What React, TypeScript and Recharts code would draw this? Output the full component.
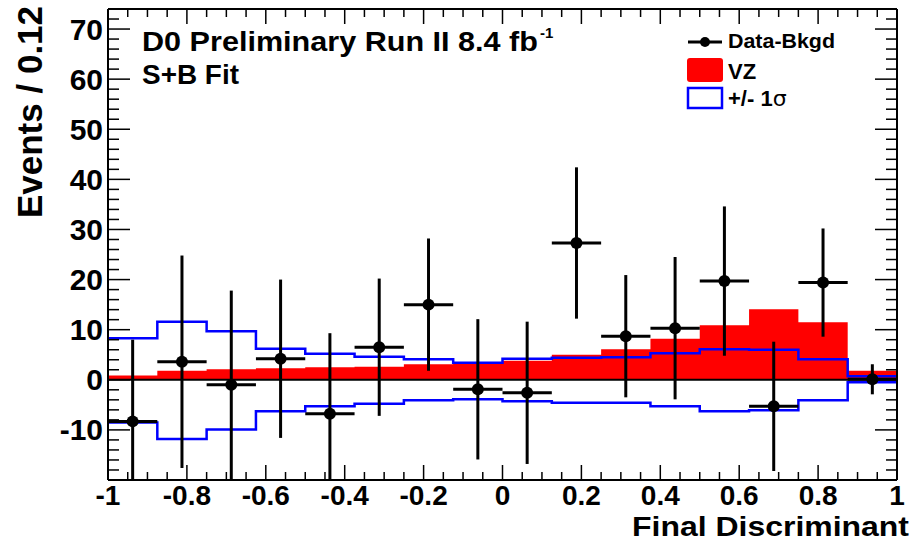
import React from 'react';
import {
    ComposedChart,
    Area,
    Line,
    Scatter,
    ErrorBar,
    XAxis,
    YAxis,
    ReferenceLine
} from 'recharts';

// histogram bins (width 0.125)
const binEdges = [-1, -0.875, -0.75, -0.625, -0.5, -0.375, -0.25, -0.125, 0, 0.125, 0.25, 0.375, 0.5, 0.625, 0.75, 0.875, 1];
const binCenters = [-0.9375, -0.8125, -0.6875, -0.5625, -0.4375, -0.3125, -0.1875, -0.0625, 0.0625, 0.1875, 0.3125, 0.4375, 0.5625, 0.6875, 0.8125, 0.9375];

const vzSignal = [0.85, 1.8, 2.1, 2.3, 2.5, 2.6, 3.1, 3.3, 3.8, 5.0, 6.1, 8.2, 10.9, 14.1, 11.5, 1.8];
const sigmaUp = [8.3, 11.6, 9.7, 6.2, 5.2, 4.6, 4.1, 3.4, 4.2, 4.4, 4.5, 5.3, 6.1, 6.0, 4.1, 0.7];
const sigmaDown = [-8.5, -11.8, -9.9, -6.3, -5.3, -4.8, -4.1, -3.9, -4.3, -4.6, -4.6, -5.3, -6.3, -6.1, -4.1, -0.5];

const dataMinusBkgd = [-8.3, 3.6, -1.0, 4.2, -6.8, 6.5, 15.0, -1.9, -2.6, 27.3, 8.7, 10.3, 19.7, -5.3, 19.4, 0.1];
const dataErr = [16.3, 21.2, 18.8, 15.8, 16.1, 13.7, 13.2, 14.0, 14.2, 15.1, 12.2, 14.2, 14.9, 12.9, 10.8, 3.0];
const halfBin = 0.0625;

const xMajorTicks = [-1, -0.8, -0.6, -0.4, -0.2, 0, 0.2, 0.4, 0.6, 0.8, 1];
const yMajorTicks = [-10, 0, 10, 20, 30, 40, 50, 60, 70];
const yDomain = [-20, 74];

const FONT = '"Liberation Sans", Arial, Helvetica, sans-serif';

// ROOT-style minor ticks: 4 per major on x, 5 per major on y
const xTicks: number[] = [];
for (let i = 0; i < xMajorTicks.length - 1; i++) {
    const a = xMajorTicks[i];
    const step = (xMajorTicks[i + 1] - a) / 4;
    for (let k = 0; k < 4; k++) xTicks.push(Math.round((a + k * step) * 1000) / 1000);
}
xTicks.push(xMajorTicks[xMajorTicks.length - 1]);

const yTicks: number[] = [];
for (let v = yDomain[0]; v <= yDomain[1]; v += 2) yTicks.push(v);

const isMajorX = (v: number) => xMajorTicks.some((m) => Math.abs(m - v) < 1e-6);
const isMajorY = (v: number) => yMajorTicks.includes(v);

const stepData = binEdges.map((x, i) => {
    const k = Math.min(i, vzSignal.length - 1);
    return { x, vz: vzSignal[k], up: sigmaUp[k], down: sigmaDown[k] };
});

const points = binCenters.map((x, i) => ({
    x,
    y: dataMinusBkgd[i],
    yErr: dataErr[i],
    xErr: halfBin
}));

// plot frame, used to clip the error bars like ROOT does
const PLOT = { left: 108, top: 9, width: 789, height: 471 };

const BottomTick = (props: any) => {
    const { x, y, payload } = props;
    const major = isMajorX(payload.value);
    return (
        <g>
            <line x1={x} x2={x} y1={y} y2={y - (major ? 15 : 8)} stroke="#000" strokeWidth={1.5} />
            {major && (
                <text
                    x={x}
                    y={y + 25}
                    textAnchor="middle"
                    fontFamily={FONT}
                    fontWeight="bold"
                    fontSize={28}
                    fill="#000"
                >
                    {String(payload.value)}
                </text>
            )}
        </g>
    );
};

const TopTick = (props: any) => {
    const { x, y, payload } = props;
    const major = isMajorX(payload.value);
    return <line x1={x} x2={x} y1={y} y2={y + (major ? 15 : 8)} stroke="#000" strokeWidth={1.5} />;
};

const LeftTick = (props: any) => {
    const { x, y, payload } = props;
    const major = isMajorY(payload.value);
    return (
        <g>
            <line x1={x} x2={x + (major ? 22 : 11)} y1={y} y2={y} stroke="#000" strokeWidth={1.5} />
            {major && (
                <text
                    x={x - 5}
                    y={y + 10.5}
                    textAnchor="end"
                    fontFamily={FONT}
                    fontWeight="bold"
                    fontSize={30}
                    fill="#000"
                >
                    {String(payload.value)}
                </text>
            )}
        </g>
    );
};

const RightTick = (props: any) => {
    const { x, y, payload } = props;
    const major = isMajorY(payload.value);
    return <line x1={x} x2={x - (major ? 22 : 11)} y1={y} y2={y} stroke="#000" strokeWidth={1.5} />;
};

const frame = { stroke: '#000', strokeWidth: 2 };

function Annotations() {
    return (
        <svg
            width={911}
            height={542}
            style={{ position: 'absolute', left: 0, top: 0, pointerEvents: 'none' }}
            fontFamily={FONT}
            fontWeight="bold"
        >
            <defs>
                <clipPath id="plotClip" clipPathUnits="userSpaceOnUse">
                    <rect x={PLOT.left} y={PLOT.top} width={PLOT.width} height={PLOT.height} />
                </clipPath>
            </defs>
            <text x={142} y={51} fontSize={28} textLength={396} lengthAdjust="spacingAndGlyphs">
                D0 Preliminary Run II 8.4 fb
            </text>
            <text x={540} y={38} fontSize={15}>-1</text>
            <text x={142} y={84} fontSize={27} textLength={97} lengthAdjust="spacingAndGlyphs">S+B Fit</text>

            {/* legend */}
            <line x1={688} x2={722} y1={42} y2={42} stroke="#000" strokeWidth={3} />
            <circle cx={705} cy={42} r={5} fill="#000" />
            <text x={728} y={48} fontSize={20} textLength={107} lengthAdjust="spacingAndGlyphs">Data-Bkgd</text>
            <rect x={687} y={58} width={36} height={24} rx={3} fill="#ff0000" />
            <text x={728} y={79} fontSize={22}>VZ</text>
            <rect x={688} y={88} width={34} height={20} fill="none" stroke="#0000ff" strokeWidth={2.5} />
            <text x={728} y={106} fontSize={22}>+/- 1<tspan fontWeight="normal" fontFamily="'DejaVu Sans', sans-serif">σ</tspan></text>

            {/* axis titles */}
            <text
                x={42}
                y={112}
                fontSize={35}
                textAnchor="middle"
                transform="rotate(-90 42 112)"
            >
                Events / 0.12
            </text>
            <text x={909} y={536} fontSize={28} textAnchor="end" textLength={277} lengthAdjust="spacingAndGlyphs">
                Final Discriminant
            </text>
        </svg>
    );
}

export default function App() {
    return (
        <div style={{ position: 'relative', width: 911, height: 542, background: '#fff' }}>
            <style>{'body { margin: 0; } .recharts-errorBar { clip-path: url(#plotClip); }'}</style>
            <ComposedChart width={911} height={542} margin={{ top: 0, right: 0, bottom: 0, left: 0 }}>
                <XAxis
                    xAxisId="b"
                    dataKey="x"
                    type="number"
                    domain={[-1, 1]}
                    ticks={xTicks}
                    interval={0}
                    allowDataOverflow
                    height={62}
                    tickSize={0}
                    tickMargin={0}
                    tickLine={false}
                    axisLine={frame}
                    tick={BottomTick}
                />
                <XAxis
                    xAxisId="t"
                    orientation="top"
                    dataKey="x"
                    type="number"
                    domain={[-1, 1]}
                    ticks={xTicks}
                    interval={0}
                    allowDataOverflow
                    height={9}
                    tickSize={0}
                    tickMargin={0}
                    tickLine={false}
                    axisLine={frame}
                    tick={TopTick}
                />
                <YAxis
                    yAxisId="l"
                    type="number"
                    domain={yDomain}
                    ticks={yTicks}
                    interval={0}
                    allowDataOverflow
                    width={108}
                    tickSize={0}
                    tickMargin={0}
                    tickLine={false}
                    axisLine={frame}
                    tick={LeftTick}
                />
                <YAxis
                    yAxisId="r"
                    orientation="right"
                    type="number"
                    domain={yDomain}
                    ticks={yTicks}
                    interval={0}
                    allowDataOverflow
                    width={14}
                    tickSize={0}
                    tickMargin={0}
                    tickLine={false}
                    axisLine={frame}
                    tick={RightTick}
                />
                <Area
                    xAxisId="b"
                    yAxisId="l"
                    data={stepData}
                    dataKey="vz"
                    type="stepAfter"
                    baseValue={0}
                    stroke="none"
                    fill="#ff0000"
                    fillOpacity={1}
                    isAnimationActive={false}
                />
                <ReferenceLine xAxisId="b" yAxisId="l" y={0} stroke="#000" strokeWidth={2} />
                <Line
                    xAxisId="b"
                    yAxisId="l"
                    data={stepData}
                    dataKey="up"
                    type="stepAfter"
                    stroke="#0000ff"
                    strokeWidth={2.5}
                    dot={false}
                    isAnimationActive={false}
                />
                <Line
                    xAxisId="b"
                    yAxisId="l"
                    data={stepData}
                    dataKey="down"
                    type="stepAfter"
                    stroke="#0000ff"
                    strokeWidth={2.5}
                    dot={false}
                    isAnimationActive={false}
                />
                <Scatter
                    xAxisId="b"
                    yAxisId="l"
                    data={points}
                    dataKey="y"
                    fill="#000"
                    isAnimationActive={false}
                    shape={(p: any) => <circle cx={p.cx} cy={p.cy} r={6} fill="#000" />}
                >
                    <ErrorBar dataKey="yErr" direction="y" width={0} stroke="#000" strokeWidth={3} isAnimationActive={false} />
                    <ErrorBar dataKey="xErr" direction="x" width={0} stroke="#000" strokeWidth={3} isAnimationActive={false} />
                </Scatter>
            </ComposedChart>
            <Annotations />
        </div>
    );
}
